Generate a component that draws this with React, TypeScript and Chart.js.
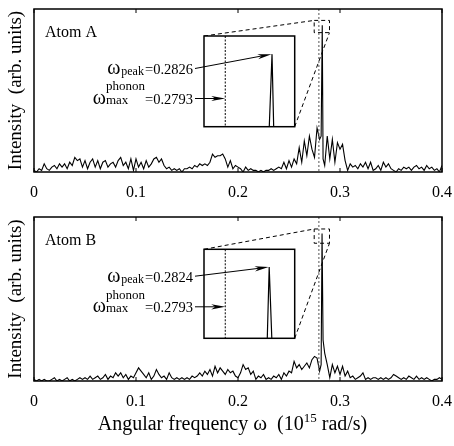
import React, { useEffect, useRef } from "react";
import { Chart, registerables } from "chart.js";
Chart.register(...registerables);

// ---------------- data ----------------
const FREQ_STEP = 0.0025; // sampling grid of the spectra (10^15 rad/s)
const xTicks = [0, 0.1, 0.2, 0.3, 0.4];
const phononMax = 0.2793;

// Atom A spectrum on the grid (null = slot replaced by the resolved peak points)
const intensityA = [
  0.01, 0.0, 0.02, 0.01, 0.05, 0.02, 0.01, 0.03,
  0.04, 0.02, 0.05, 0.03, 0.05, 0.02, 0.06, 0.04,
  0.09, 0.07, 0.08, 0.03, 0.07, 0.02, 0.06, 0.08,
  0.03, 0.07, 0.02, 0.06, 0.07, 0.03, 0.05, 0.06,
  0.03, 0.07, 0.09, 0.04, 0.06, 0.02, 0.08, 0.01,
  0.08, 0.03, 0.06, 0.02, 0.07, 0.03, 0.05, 0.08,
  0.09, 0.06, 0.08, 0.04, 0.02, 0.03, 0.01, 0.02,
  0.01, 0.02, 0.0, 0.02, 0.02, 0.03, 0.02, 0.04,
  0.03, 0.05, 0.04, 0.05, 0.04, 0.06, 0.11, 0.09,
  0.1, 0.1, 0.11, 0.08, 0.03, 0.07, 0.02, 0.04,
  0.03, 0.02, 0.0, 0.03, 0.01, 0.02, 0.01, 0.01,
  0.0, 0.01, 0.0, 0.01, 0.01, 0.02, 0.01, 0.02,
  0.03, 0.02, 0.06, 0.02, 0.07, 0.03, 0.08, 0.05,
  0.15, 0.06, 0.19, 0.1, 0.22, 0.14, 0.09, 0.27,
  0.2, null, 0.04, 0.22, 0.08, 0.2, 0.06, 0.18,
  0.14, 0.17, 0.07, 0.01, 0.05, 0.03, 0.04, 0.02,
  0.05, 0.03, 0.06, 0.02, 0.06, 0.01, 0.02, 0.04,
  0.01, 0.06, 0.03, 0.05, 0.02, 0.01, 0.0, 0.02,
  0.01, 0.03, 0.02, 0.03, 0.01, 0.03, 0.04, 0.02,
  0.03, 0.01, 0.04, 0.02, 0.03, 0.01, 0.02, 0.0,
  0.04,
];
const peakFreqA = [0.2815, 0.2826, 0.2834];
const peakIntA = [0.22, 0.9, 0.08];

// Atom B spectrum
const intensityB = [
  0.01, 0.0, 0.01, 0.0, 0.01, 0.0, 0.0, 0.01,
  0.02, 0.0, 0.01, 0.0, 0.01, 0.02, 0.0, 0.01,
  0.0, 0.01, 0.02, 0.01, 0.02, 0.01, 0.03, 0.01,
  0.02, 0.03, 0.01, 0.02, 0.04, 0.01, 0.03, 0.02,
  0.05, 0.03, 0.05, 0.02, 0.04, 0.01, 0.03, 0.02,
  0.05, 0.08, 0.06, 0.04, 0.02, 0.05, 0.01, 0.03,
  0.07, 0.04, 0.02, 0.03, 0.01, 0.05, 0.02, 0.01,
  0.02, 0.01, 0.02, 0.01, 0.02, 0.01, 0.03, 0.02,
  0.03, 0.05, 0.03, 0.06, 0.04, 0.07, 0.03, 0.09,
  0.05, 0.08, 0.06, 0.04, 0.07, 0.05, 0.06, 0.03,
  0.02, 0.05, 0.1, 0.07, 0.08, 0.04, 0.06, 0.01,
  0.03, 0.02, 0.04, 0.01, 0.02, 0.01, 0.03, 0.02,
  0.04, 0.01, 0.05, 0.03, 0.06, 0.05, 0.12, 0.08,
  0.1, 0.07, 0.09, 0.11, 0.08, 0.13, 0.15, 0.14,
  0.06, null, 0.17, 0.1, 0.02, 0.1, 0.05, 0.09,
  0.04, 0.09, 0.03, 0.06, 0.02, 0.03, 0.01, 0.02,
  0.03, 0.05, 0.01, 0.02, 0.01, 0.02, 0.02, 0.01,
  0.02, 0.01, 0.02, 0.01, 0.02, 0.04, 0.03, 0.02,
  0.01, 0.02, 0.01, 0.03, 0.02, 0.01, 0.03, 0.01,
  0.02, 0.01, 0.02, 0.01, 0.0, 0.01, 0.01, 0.02,
  0.01,
];
const peakFreqB = [0.2815, 0.2824, 0.2834];
const peakIntB = [0.1, 0.9, 0.25];

// zoomed region (main-axis data units) and inset axis ranges
const zoomBoxA = { x: [0.2747, 0.2897], y: [0.855, 0.93] };
const zoomBoxB = { x: [0.2747, 0.2897], y: [0.84, 0.927] };
const insetXRange = [0.2778, 0.2842];
const insetYRange = [0.78, 0.93];

// ---------------- helpers ----------------
const SERIF = '"Liberation Serif", "Times New Roman", serif';
const W = 454;

function buildSeries(grid: (number | null)[], pf: number[], pi: number[]) {
  const pts: { x: number; y: number }[] = [];
  grid.forEach((v, i) => {
    if (v !== null) pts.push({ x: i * FREQ_STEP, y: v });
  });
  pf.forEach((f, i) => pts.push({ x: f, y: pi[i] }));
  pts.sort((a, b) => a.x - b.x);
  return pts;
}

type Box = { left: number; top: number; right: number; bottom: number };
type Panel = {
  label: string;
  series: { x: number; y: number }[];
  peakFreq: number;
  peakInt: number;
  zoomBox: { x: number[]; y: number[] };
  canvasTop: number;
  height: number;
  padTop: number;
  xAxisH: number;
  inset: Box;
  textBaselines: number[];
  xTitle: boolean;
};

const PANEL_A: Panel = {
  label: "Atom A",
  series: buildSeries(intensityA, peakFreqA, peakIntA),
  peakFreq: peakFreqA[1],
  peakInt: peakIntA[1],
  zoomBox: zoomBoxA,
  canvasTop: 0,
  height: 205,
  padTop: 9,
  xAxisH: 33,
  inset: { left: 204, top: 36, right: 294.7, bottom: 126.7 },
  textBaselines: [38, 68],
  xTitle: false,
};
const PANEL_B: Panel = {
  label: "Atom B",
  series: buildSeries(intensityB, peakFreqB, peakIntB),
  peakFreq: peakFreqB[1],
  peakInt: peakIntB[1],
  zoomBox: zoomBoxB,
  canvasTop: 205,
  height: 241,
  padTop: 12,
  xAxisH: 65,
  inset: { left: 204, top: 44.3, right: 294.7, bottom: 133.3 },
  textBaselines: [32.4, 63],
  xTitle: true,
};

function drawArrow(ctx: CanvasRenderingContext2D, x0: number, y0: number, x1: number, y1: number) {
  const a = Math.atan2(y1 - y0, x1 - x0);
  const c = Math.cos(a), s = Math.sin(a);
  const L = 14, hw = 2.6;
  ctx.beginPath();
  ctx.moveTo(x0, y0);
  ctx.lineTo(x1 - L * 0.7 * c, y1 - L * 0.7 * s);
  ctx.stroke();
  ctx.beginPath();
  ctx.moveTo(x1, y1);
  ctx.lineTo(x1 - L * c - hw * s, y1 - L * s + hw * c);
  ctx.lineTo(x1 - L * 0.72 * c, y1 - L * 0.72 * s);
  ctx.lineTo(x1 - L * c + hw * s, y1 - L * s - hw * c);
  ctx.closePath();
  ctx.fill();
}

function makeMain(canvas: HTMLCanvasElement, p: Panel) {
  const plugin = {
    id: "mainDecor",
    afterDraw(chart: any) {
      const { ctx, chartArea: ca, scales } = chart;
      const x = scales.x, y = scales.y;
      ctx.save();
      // phonon max dashed line
      ctx.strokeStyle = "#555";
      ctx.lineWidth = 1;
      ctx.setLineDash([2, 2]);
      const px = x.getPixelForValue(phononMax);
      ctx.beginPath();
      ctx.moveTo(px, ca.top);
      ctx.lineTo(px, ca.bottom);
      ctx.stroke();
      // zoom rectangle + connectors
      ctx.strokeStyle = "#000";
      ctx.setLineDash([4, 3]);
      const rx0 = x.getPixelForValue(p.zoomBox.x[0]);
      const rx1 = x.getPixelForValue(p.zoomBox.x[1]);
      const ry0 = y.getPixelForValue(p.zoomBox.y[1]);
      const ry1 = y.getPixelForValue(p.zoomBox.y[0]);
      ctx.strokeRect(rx0, ry0, rx1 - rx0, ry1 - ry0);
      ctx.beginPath();
      ctx.moveTo(p.inset.left, p.inset.top);
      ctx.lineTo(rx0, ry0);
      ctx.moveTo(p.inset.right, p.inset.bottom);
      ctx.lineTo(rx1, ry1);
      ctx.stroke();
      // frame
      ctx.setLineDash([]);
      ctx.lineWidth = 1.5;
      ctx.strokeRect(ca.left, ca.top, ca.right - ca.left, ca.bottom - ca.top);
      // inward ticks
      ctx.lineWidth = 1;
      xTicks.forEach((t) => {
        const tx = x.getPixelForValue(t);
        ctx.beginPath();
        ctx.moveTo(tx, ca.bottom);
        ctx.lineTo(tx, ca.bottom - 4);
        ctx.moveTo(tx, ca.top);
        ctx.lineTo(tx, ca.top + 4);
        ctx.stroke();
      });
      // panel label
      ctx.fillStyle = "#000";
      ctx.font = `16px ${SERIF}`;
      ctx.textAlign = "left";
      ctx.textBaseline = "alphabetic";
      ctx.fillText(p.label, ca.left + 11, ca.top + 28.3);
      // y title
      ctx.save();
      ctx.translate(16.5, (ca.top + ca.bottom) / 2);
      ctx.rotate(-Math.PI / 2);
      ctx.font = `19px ${SERIF}`;
      ctx.textAlign = "center";
      ctx.textBaseline = "middle";
      ctx.fillText("Intensity  (arb. units)", 0, 0);
      ctx.restore();
      // x title
      if (p.xTitle) {
        const pieces = [
          { t: "Angular frequency ", f: `20px ${SERIF}`, dy: 0 },
          { t: "ω", f: `21px ${SERIF}`, dy: 0 },
          { t: "  (10", f: `20px ${SERIF}`, dy: 0 },
          { t: "15", f: `13px ${SERIF}`, dy: -8 },
          { t: " rad/s)", f: `20px ${SERIF}`, dy: 0 },
        ];
        let total = 0;
        pieces.forEach((pc) => {
          ctx.font = pc.f;
          total += ctx.measureText(pc.t).width;
        });
        let cx = 232.5 - total / 2;
        const base = 225;
        ctx.textAlign = "left";
        pieces.forEach((pc) => {
          ctx.font = pc.f;
          ctx.fillText(pc.t, cx, base + pc.dy);
          cx += ctx.measureText(pc.t).width;
        });
      }
      ctx.restore();
    },
  };

  return new Chart(canvas, {
    type: "line",
    data: {
      datasets: [
        {
          data: p.series,
          borderColor: "#000",
          borderWidth: 1.1,
          pointRadius: 0,
          tension: 0,
          fill: false,
        },
      ],
    },
    options: {
      responsive: false,
      animation: false,
      devicePixelRatio: 1,
      events: [],
      layout: { padding: { left: 34, right: 12, top: p.padTop, bottom: 0 } },
      plugins: { legend: { display: false }, tooltip: { enabled: false } },
      scales: {
        x: {
          type: "linear",
          min: 0,
          max: 0.4,
          grid: { display: false, drawTicks: false },
          border: { display: false },
          ticks: {
            stepSize: 0.1,
            padding: 11,
            maxRotation: 0,
            color: "#000",
            font: { family: SERIF, size: 16 },
            callback: (v: any) => String(Math.round(Number(v) * 10) / 10),
          },
          afterFit: (s: any) => {
            s.height = p.xAxisH;
            s.paddingLeft = 0;
            s.paddingRight = 0;
          },
        },
        y: { display: false, min: 0, max: 1 },
      },
    } as any,
    plugins: [plugin],
  });
}

function makeInset(canvas: HTMLCanvasElement, p: Panel) {
  const b = p.inset;
  const plugin = {
    id: "insetDecor",
    beforeDraw(chart: any) {
      const { ctx, chartArea: ca } = chart;
      ctx.save();
      ctx.fillStyle = "#fff";
      ctx.fillRect(ca.left, ca.top, ca.right - ca.left, ca.bottom - ca.top);
      ctx.restore();
    },
    afterDraw(chart: any) {
      const { ctx, chartArea: ca, scales } = chart;
      const x = scales.x, y = scales.y;
      ctx.save();
      // phonon line
      const px = x.getPixelForValue(phononMax);
      ctx.strokeStyle = "#000";
      ctx.lineWidth = 1;
      ctx.setLineDash([2, 1.5]);
      ctx.beginPath();
      ctx.moveTo(px, ca.top);
      ctx.lineTo(px, ca.bottom);
      ctx.stroke();
      ctx.setLineDash([]);
      // border
      ctx.lineWidth = 1.5;
      ctx.strokeRect(ca.left, ca.top, ca.right - ca.left, ca.bottom - ca.top);
      // labels
      ctx.fillStyle = "#000";
      ctx.textAlign = "left";
      ctx.textBaseline = "alphabetic";
      const R = ca.left - 11;
      const b1 = ca.top + p.textBaselines[0];
      const b2 = ca.top + p.textBaselines[1];
      const omegaFont = `20px ${SERIF}`;
      const valFont = `14.5px ${SERIF}`;
      // line 1: omega_peak
      ctx.font = valFont;
      const v1 = "=" + p.peakFreq.toFixed(4);
      const wv1 = ctx.measureText(v1).width;
      ctx.fillText(v1, R - wv1, b1);
      ctx.font = `12px ${SERIF}`;
      const wp = ctx.measureText("peak").width;
      ctx.fillText("peak", R - wv1 - 1 - wp, b1 + 1);
      ctx.font = omegaFont;
      const wo = ctx.measureText("ω").width;
      ctx.fillText("ω", R - wv1 - 1 - wp - 1 - wo, b1);
      // line 2: omega_max^phonon
      ctx.font = valFont;
      const v2 = "=" + phononMax.toFixed(4);
      const wv2 = ctx.measureText(v2).width;
      ctx.fillText(v2, R - wv2, b2);
      ctx.font = `13px ${SERIF}`;
      const wph = ctx.measureText("phonon").width;
      const wmx = ctx.measureText("max").width;
      const ss = R - wv2 - Math.max(wph, wmx);
      ctx.fillText("phonon", ss, b2 - 13.6);
      ctx.fillText("max", ss, b2);
      ctx.font = omegaFont;
      ctx.fillText("ω", ss - wo, b2);
      // arrows
      ctx.lineWidth = 1;
      drawArrow(ctx, ca.left - 9, b1 - 5.5, x.getPixelForValue(p.peakFreq) - 0.5, y.getPixelForValue(p.peakInt));
      drawArrow(ctx, ca.left - 9, b2 - 5.5, px, b2 - 5.5);
      ctx.restore();
    },
  };

  return new Chart(canvas, {
    type: "line",
    data: {
      datasets: [
        {
          data: p.series,
          borderColor: "#000",
          borderWidth: 1.2,
          pointRadius: 0,
          tension: 0,
          fill: false,
        },
      ],
    },
    options: {
      responsive: false,
      animation: false,
      devicePixelRatio: 1,
      events: [],
      layout: {
        padding: { left: b.left, top: b.top, right: W - b.right, bottom: p.height - b.bottom },
      },
      plugins: { legend: { display: false }, tooltip: { enabled: false } },
      scales: {
        x: { type: "linear", display: false, min: insetXRange[0], max: insetXRange[1] },
        y: { display: false, min: insetYRange[0], max: insetYRange[1] },
      },
    } as any,
    plugins: [plugin],
  });
}

export default function App() {
  const mainA = useRef<HTMLCanvasElement>(null);
  const insetA = useRef<HTMLCanvasElement>(null);
  const mainB = useRef<HTMLCanvasElement>(null);
  const insetB = useRef<HTMLCanvasElement>(null);

  useEffect(() => {
    const charts = [
      makeMain(mainA.current!, PANEL_A),
      makeInset(insetA.current!, PANEL_A),
      makeMain(mainB.current!, PANEL_B),
      makeInset(insetB.current!, PANEL_B),
    ];
    return () => charts.forEach((c) => c.destroy());
  }, []);

  const cv = (top: number, h: number): React.CSSProperties => ({
    position: "absolute",
    left: 0,
    top,
    width: W,
    height: h,
    pointerEvents: "none",
  });

  return (
    <div style={{ position: "fixed", left: 0, top: 0, width: W, height: 446, background: "#fff" }}>
      <canvas ref={mainA} width={W} height={PANEL_A.height} style={cv(PANEL_A.canvasTop, PANEL_A.height)} />
      <canvas ref={insetA} width={W} height={PANEL_A.height} style={cv(PANEL_A.canvasTop, PANEL_A.height)} />
      <canvas ref={mainB} width={W} height={PANEL_B.height} style={cv(PANEL_B.canvasTop, PANEL_B.height)} />
      <canvas ref={insetB} width={W} height={PANEL_B.height} style={cv(PANEL_B.canvasTop, PANEL_B.height)} />
    </div>
  );
}
